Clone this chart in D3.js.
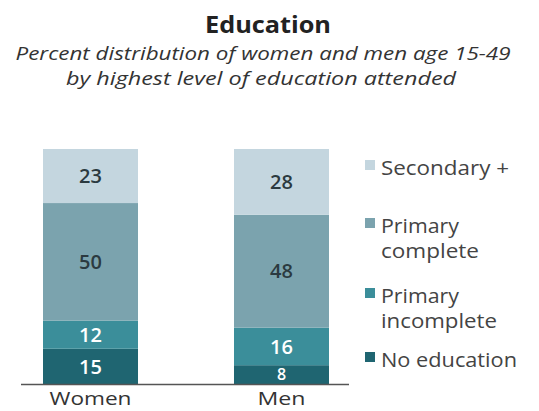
<!DOCTYPE html>
<html>
<head>
<meta charset="utf-8">
<script src="https://cdn.jsdelivr.net/npm/d3@7"></script>
<style>
  body { margin: 0; background: #fff; }
  svg { display: block; font-family: "Open Sans", "Noto Sans", sans-serif; }
</style>
</head>
<body>
<svg id="chart" width="539" height="411"></svg>
<script>
const width = 539;
const height = 411;

// Data
const groups = ["Women", "Men"];
const levels = ["No education", "Primary incomplete", "Primary complete", "Secondary +"];
const noEducation = [15, 8];
const primaryIncomplete = [12, 16];
const primaryComplete = [50, 48];
const secondaryPlus = [23, 28];

// Legend text, top to bottom, split in lines
const legendLines = [["Secondary +"], ["Primary", "complete"], ["Primary", "incomplete"], ["No education"]];
const legendKeys = ["Secondary +", "Primary complete", "Primary incomplete", "No education"];
// approximate widths of each legend line in the reference
const legendWidths = [[128], [78], [98], [78], [116], [136]];

const colors = {
  "No education": "#1f6571",
  "Primary incomplete": "#3b8e9a",
  "Primary complete": "#7ba3ae",
  "Secondary +": "#c4d6df"
};
const labelColors = {
  "No education": "#ffffff",
  "Primary incomplete": "#ffffff",
  "Primary complete": "#2b3a40",
  "Secondary +": "#2b3a40"
};

// Build a table for d3.stack
const table = groups.map((g, i) => ({
  group: g,
  "No education": noEducation[i],
  "Primary incomplete": primaryIncomplete[i],
  "Primary complete": primaryComplete[i],
  "Secondary +": secondaryPlus[i]
}));

const series = d3.stack().keys(levels)(table);

const svg = d3.select("#chart");

// Scales
const x = d3.scaleBand()
  .domain(groups)
  .range([43, 329])
  .paddingInner(0.5026)
  .paddingOuter(0);

const y = d3.scaleLinear()
  .domain([0, 100])
  .range([384, 149]);

// Title
svg.append("text")
  .attr("x", 268)
  .attr("y", 33)
  .attr("text-anchor", "middle")
  .attr("font-size", 24)
  .attr("font-weight", "bold")
  .attr("fill", "#222")
  .attr("textLength", 126)
  .attr("lengthAdjust", "spacingAndGlyphs")
  .text("Education");

svg.append("text")
  .attr("x", 263)
  .attr("y", 60)
  .attr("text-anchor", "middle")
  .attr("font-size", 19)
  .attr("font-style", "italic")
  .attr("fill", "#333")
  .attr("textLength", 495)
  .attr("lengthAdjust", "spacingAndGlyphs")
  .text("Percent distribution of women and men age 15-49");

svg.append("text")
  .attr("x", 261)
  .attr("y", 85)
  .attr("text-anchor", "middle")
  .attr("font-size", 19)
  .attr("font-style", "italic")
  .attr("fill", "#333")
  .attr("textLength", 390)
  .attr("lengthAdjust", "spacingAndGlyphs")
  .text("by highest level of education attended");

// Stacked bars
const layer = svg.selectAll("g.layer")
  .data(series)
  .enter()
  .append("g")
  .attr("class", "layer")
  .attr("fill", (d) => colors[d.key]);

layer.selectAll("rect")
  .data((d) => d)
  .enter()
  .append("rect")
  .attr("x", (d) => x(d.data.group))
  .attr("y", (d) => y(d[1]))
  .attr("width", x.bandwidth())
  .attr("height", (d) => y(d[0]) - y(d[1]));

// Value labels
series.forEach((s) => {
  svg.selectAll(null)
    .data(s)
    .enter()
    .append("text")
    .attr("x", (d) => x(d.data.group) + x.bandwidth() / 2)
    .attr("y", (d) => (y(d[0]) + y(d[1])) / 2)
    .attr("dy", "0.36em")
    .attr("text-anchor", "middle")
    .attr("font-size", (d) => (d[1] - d[0] < 10 ? 16 : 20))
    .attr("font-weight", 600)
    .attr("fill", labelColors[s.key])
    .text((d) => d[1] - d[0]);
});

// Baseline
svg.append("line")
  .attr("x1", 21)
  .attr("x2", 349)
  .attr("y1", y(0) + 0.5)
  .attr("y2", y(0) + 0.5)
  .attr("stroke", "#555")
  .attr("stroke-width", 1.5);

// Category axis labels
const xAxis = d3.axisBottom(x).tickSize(0).tickPadding(8);
const gx = svg.append("g")
  .attr("transform", "translate(0," + y(0) + ")")
  .call(xAxis);
gx.select(".domain").remove();
gx.selectAll("text")
  .attr("font-size", 19)
  .attr("font-family", "\"Open Sans\", sans-serif")
  .attr("fill", "#333")
  .attr("textLength", (d) => (d === "Women" ? 82 : 48))
  .attr("lengthAdjust", "spacingAndGlyphs");

// Legend
const legendTop = [175, 233, 303, 367];
const legend = svg.selectAll("g.legend")
  .data(legendKeys)
  .enter()
  .append("g")
  .attr("class", "legend")
  .attr("transform", (d, i) => "translate(365," + legendTop[i] + ")");

legend.append("rect")
  .attr("x", 0)
  .attr("y", -15)
  .attr("width", 10)
  .attr("height", 10)
  .attr("fill", (d) => colors[d]);

let lineIndex = 0;
legend.each(function (d, i) {
  const g = d3.select(this);
  legendLines[i].forEach((line, j) => {
    g.append("text")
      .attr("x", 16)
      .attr("y", j * 25)
      .attr("font-size", 20)
      .attr("fill", "#444")
      .attr("textLength", legendWidths[lineIndex][0])
      .attr("lengthAdjust", "spacingAndGlyphs")
      .text(line);
    lineIndex += 1;
  });
});
</script>
</body>
</html>
